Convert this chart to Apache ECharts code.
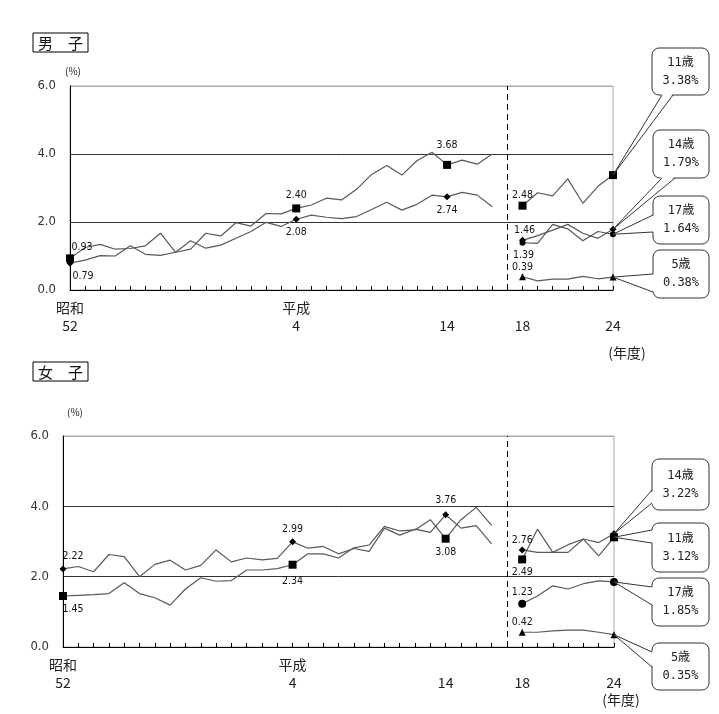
<!DOCTYPE html>
<html><head><meta charset="utf-8">
<script src="https://cdn.jsdelivr.net/npm/echarts/dist/echarts.min.js"></script>
<style>html,body{margin:0;padding:0;background:#fff}#c{width:719px;height:714px}</style>
</head><body><div id="c"></div>
<script>
// ---- categories (年度) : 昭和52..平成17, gap, 平成18..24
const categories = ['S52','S53','S54','S55','S56','S57','S58','S59','S60','S61','S62','S63',
  'H1','H2','H3','H4','H5','H6','H7','H8','H9','H10','H11','H12','H13','H14','H15','H16','H17',
  'gap','H18','H19','H20','H21','H22','H23','H24'];
const gapCategory = 'gap';
const labeledTicks = ['S52','H4','H14','H18','H24'];
const tickLabelText = ['昭和\n52','平成\n4','\n14','\n18','\n24'];
const yTicks = [0, 2, 4, 6];

// ---- 男子 (boys)
const boys11_p1 = [0.93,1.25,1.34,1.20,1.22,1.30,1.67,1.11,1.20,1.67,1.59,1.98,1.88,2.25,2.24,2.40,2.50,2.70,2.65,2.96,3.40,3.66,3.38,3.80,4.05,3.68,3.82,3.70,4.00];
const boys14_p1 = [0.79,0.88,1.01,1.00,1.30,1.05,1.02,1.11,1.45,1.23,1.32,1.52,1.72,1.99,1.87,2.08,2.20,2.14,2.10,2.16,2.37,2.58,2.35,2.52,2.79,2.74,2.87,2.79,2.45];
const boys11_p2 = [2.48,2.86,2.77,3.27,2.55,3.05,3.38];
const boys14_p2 = [1.46,1.60,1.76,1.93,1.67,1.52,1.79];
const boys17_p2 = [1.39,1.37,1.93,1.80,1.45,1.72,1.64];
const boys5_p2  = [0.39,0.27,0.32,0.32,0.40,0.33,0.38];

// ---- 女子 (girls)
const girls11_p1 = [1.45,1.47,1.49,1.52,1.83,1.52,1.40,1.19,1.65,1.97,1.87,1.89,2.19,2.19,2.23,2.34,2.65,2.65,2.53,2.82,2.90,3.43,3.30,3.33,3.62,3.08,3.62,3.97,3.46];
const girls14_p1 = [2.22,2.29,2.14,2.63,2.57,2.00,2.35,2.47,2.19,2.32,2.76,2.42,2.53,2.48,2.52,2.99,2.81,2.86,2.65,2.80,2.72,3.38,3.18,3.35,3.26,3.76,3.38,3.45,2.93];
const girls11_p2 = [2.49,3.35,2.69,2.69,3.07,2.59,3.12];
const girls14_p2 = [2.76,2.69,2.69,2.91,3.07,2.97,3.22];
const girls17_p2 = [1.23,1.45,1.74,1.65,1.80,1.88,1.85];
const girls5_p2  = [0.42,0.42,0.46,0.48,0.48,0.42,0.35];

const seriesNames = ['11歳','14歳','17歳','5歳'];

// ---------------------------------------------------------------
const NUMF = "'DejaVu Sans Condensed','Liberation Sans Narrow','Liberation Sans',Arial,sans-serif";
const JPF = "'Noto Sans CJK JP','Noto Sans',sans-serif";
const MONOF = "'DejaVu Sans Mono','Noto Sans CJK JP',monospace";
const LINE = '#595959';

function buildValues(p1, p2) {
  const first = p1 ? p1.slice() : categories.slice(0, 29).map(() => '-');
  return first.concat(['-']).concat(p2);
}

function mkSeries(name, g, p1, p2, symbol, size, labels) {
  const vals = buildValues(p1, p2);
  const marked = p1 ? [0, 15, 25, 30, 36] : [30, 36];
  const data = vals.map((v, i) => {
    if (marked.indexOf(i) < 0 || v === '-') return v;
    const item = { value: v, symbol: symbol, symbolSize: size };
    const l = labels[i];
    if (l) {
      item.label = { show: true, position: l[0], offset: l[1] || [0, 0], distance: l[2] == null ? 4 : l[2],
        formatter: () => v.toFixed(2) };
    }
    return item;
  });
  return {
    name: name, type: 'line', xAxisIndex: g, yAxisIndex: g, data: data,
    symbol: 'none', showSymbol: true, showAllSymbol: true, connectNulls: false,
    lineStyle: { color: LINE, width: 1.2 }, itemStyle: { color: '#000' },
    label: { color: '#111', fontSize: 10.5, fontFamily: NUMF },
    emphasis: { disabled: true }, silent: true, z: 3
  };
}

const series = [
  mkSeries('11歳', 0, boys11_p1, boys11_p2, 'rect', 8, {0: ['top', [12, 2]], 15: ['top'], 25: ['top', [0, -6]], 30: ['top', [0, 0], 1]}),
  mkSeries('14歳', 0, boys14_p1, boys14_p2, 'diamond', 7, {0: ['bottom', [13, 0]], 15: ['bottom'], 25: ['bottom'], 30: ['top', [2, 0], 1]}),
  mkSeries('17歳', 0, null, boys17_p2, 'circle', 6, {30: ['bottom', [1, 0]]}),
  mkSeries('5歳', 0, null, boys5_p2, 'triangle', 7, {30: ['top', [0, 0], 0]}),
  mkSeries('11歳', 1, girls11_p1, girls11_p2, 'rect', 8, {0: ['bottom', [10, 0]], 15: ['bottom', [0, 3]], 25: ['bottom'], 30: ['bottom', [0, -1]]}),
  mkSeries('14歳', 1, girls14_p1, girls14_p2, 'diamond', 7, {0: ['top', [10, 0]], 15: ['top'], 25: ['top', [0, -2]], 30: ['top', [0, 0], 1]}),
  mkSeries('17歳', 1, null, girls17_p2, 'circle', 8, {30: ['top', [0, 0], 2]}),
  mkSeries('5歳', 1, null, girls5_p2, 'triangle', 7, {30: ['top', [0, 0], 1]})
];
// dashed separators
[0, 4].forEach(k => {
  series[k].markLine = { silent: true, symbol: 'none', label: { show: false },
    lineStyle: { color: '#000', type: [6, 4], width: 1 }, data: [{ xAxis: gapCategory }] , animation: false};
});

function xAxisCfg(g) {
  return {
    type: 'category', gridIndex: g, data: categories, boundaryGap: false,
    axisLine: { show: true, lineStyle: { color: '#000', width: 1 } },
    axisTick: { show: true, inside: true, length: 4, interval: 0, lineStyle: { color: '#000' } },
    axisLabel: { interval: 0, margin: 9, color: '#222', fontSize: 14, lineHeight: 18, fontFamily: JPF,
      formatter: v => { const k = labeledTicks.indexOf(v); return k < 0 ? '' : tickLabelText[k]; } },
    splitLine: { show: false }
  };
}
function yAxisCfg(g) {
  return {
    type: 'value', gridIndex: g, min: yTicks[0], max: yTicks[yTicks.length - 1], interval: 2,
    axisLine: { show: true, lineStyle: { color: '#000', width: 1 } },
    axisTick: { show: false },
    axisLabel: { margin: 14, color: '#333', fontSize: 13, fontFamily: NUMF, formatter: v => v.toFixed(1) },
    splitLine: { show: true, lineStyle: { color: ['#000', '#333', '#333', '#aaa'], width: 1 } }
  };
}

const chart = echarts.init(document.getElementById('c'), null, { renderer: 'canvas' });
chart.setOption({
  animation: false,
  backgroundColor: '#fff',
  grid: [
    { left: 70, top: 86, width: 543, height: 204, show: true, borderColor: '#aaa', borderWidth: 1, backgroundColor: 'transparent', containLabel: false, outerBoundsMode: 'none' },
    { left: 63, top: 436, width: 551, height: 211, show: true, borderColor: '#aaa', borderWidth: 1, backgroundColor: 'transparent', containLabel: false, outerBoundsMode: 'none' }
  ],
  xAxis: [xAxisCfg(0), xAxisCfg(1)],
  yAxis: [yAxisCfg(0), yAxisCfg(1)],
  series: series
});

// ---- static texts & callouts
const graphics = [];
function titleBox(x, y, txt) {
  graphics.push({ type: 'rect', shape: { x: x, y: y, width: 55, height: 19 }, style: { fill: '#fff', stroke: '#000', lineWidth: 1 }, z: 10 });
  graphics.push({ type: 'text', x: x + 27.5, y: y + 10, style: { text: txt, font: '15px ' + JPF, fill: '#111', textAlign: 'center', textVerticalAlign: 'middle' }, z: 11 });
}
titleBox(33, 33, '男　子');
titleBox(33, 362, '女　子');
function txt(x, y, t, size) {
  graphics.push({ type: 'text', x: x, y: y, style: { text: t, font: size + 'px ' + JPF, fill: '#222', textAlign: 'center', textVerticalAlign: 'middle' }, z: 11 });
}
txt(73, 71, '(%)', 10);
txt(75, 412, '(%)', 10);
txt(627, 353, '(年度)', 14);
txt(621, 700, '(年度)', 14);

const dataByGrid = [
  [boys11_p2, boys14_p2, boys17_p2, boys5_p2],
  [girls11_p2, girls14_p2, girls17_p2, girls5_p2]
];
// callout layout: [grid, seriesIdx, boxX, boxY, boxW, boxH, side, a, b]
const callouts = [
  [0, 0, 652, 48, 57, 47, 'bottom', 662, 673],
  [0, 1, 653, 130, 56, 48, 'bottom', 662, 675],
  [0, 2, 653, 196, 56, 48, 'left', 215, 232],
  [0, 3, 653, 250, 56, 48, 'left', 274, 292],
  [1, 1, 652, 459, 57, 51, 'left', 490, 503],
  [1, 0, 652, 523, 57, 49, 'left', 530, 543],
  [1, 2, 652, 578, 57, 48, 'left', 587, 605],
  [1, 3, 652, 643, 57, 47, 'left', 652, 667]
];
callouts.forEach(c => {
  const [g, s, bx, by, bw, bh, side, a, b] = c;
  const arr = dataByGrid[g][s];
  const v = arr[arr.length - 1];
  const p = chart.convertToPixel({ gridIndex: g }, [categories.length - 1, v]);
  graphics.push({ type: 'rect', shape: { x: bx, y: by, width: bw, height: bh, r: 7 }, style: { fill: '#fff', stroke: '#333', lineWidth: 1 }, z: 20 });
  let poly, line;
  if (side === 'left') {
    poly = [[p[0], p[1]], [bx + 1.5, a], [bx + 1.5, b]];
    line = [[bx, a], [p[0], p[1]], [bx, b]];
  } else {
    poly = [[p[0], p[1]], [a, by + bh - 1.5], [b, by + bh - 1.5]];
    line = [[a, by + bh], [p[0], p[1]], [b, by + bh]];
  }
  graphics.push({ type: 'polygon', shape: { points: poly }, style: { fill: '#fff', stroke: null }, z: 21 });
  graphics.push({ type: 'polyline', shape: { points: line }, style: { stroke: '#333', lineWidth: 1, fill: null }, z: 22 });
  graphics.push({ type: 'text', x: bx + bw / 2, y: by + bh / 2, style: {
    text: seriesNames[s] + '\n' + v.toFixed(2) + '%', font: '12px ' + MONOF, fill: '#222',
    textAlign: 'center', textVerticalAlign: 'middle', lineHeight: 18 }, z: 23 });
});
chart.setOption({ graphic: graphics.map(e => Object.assign({ silent: true }, e)) });
</script></body></html>
